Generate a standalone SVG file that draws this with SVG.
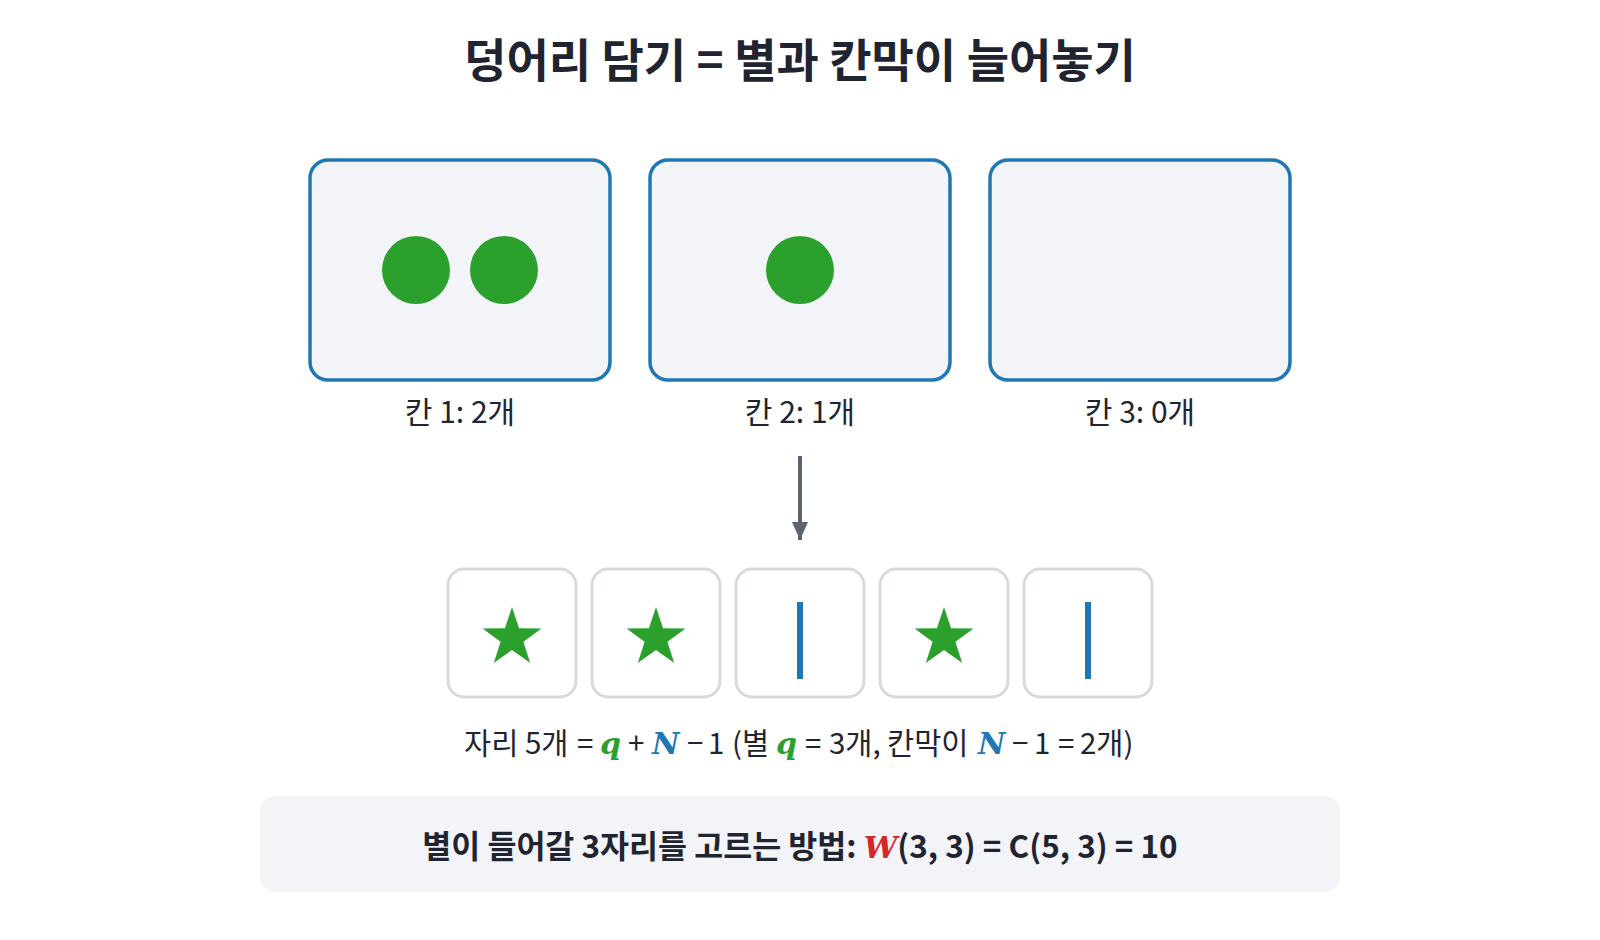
<svg xmlns="http://www.w3.org/2000/svg" width="1600" height="940" viewBox="0 0 1600 940">
<style>
  .t { font-family: "Noto Sans CJK KR", "Noto Sans", sans-serif; fill: #1f2430; }
  .title { font-size: 46px; font-weight: 700; }
  .lbl { font-size: 30px; }
  .fml { font-size: 29.5px; }
  .bin { fill: #f3f4f8; stroke: #1f77b4; stroke-width: 3.5; }
  .ball { fill: #2ca02c; }
  .slot { fill: #ffffff; stroke: #d5d9e0; stroke-width: 3; }
  .star { fill: #2ca02c; }
  .bar { fill: #1f77b4; }
  .var { font-family: "DejaVu Serif", "Liberation Serif", serif; font-weight: 700; font-style: italic; font-size: 30px; }
  .conn { stroke: #5b6373; stroke-width: 4; fill: none; }
</style>
<defs>
  <marker id="ah" viewBox="0 0 18 16" refX="18" refY="8" markerWidth="18" markerHeight="16" markerUnits="userSpaceOnUse" orient="auto">
    <path d="M0,0 L18,8 L0,16 Z" fill="#5b6373"/>
  </marker>
  <polygon id="starShape" points="0,-31 7.05,-9.71 29.48,-9.58 11.41,3.71 18.22,25.08 0,12 -18.22,25.08 -11.41,3.71 -29.48,-9.58 -7.05,-9.71"/>
</defs>
<rect width="1600" height="940" fill="#ffffff"/>

<text class="t title" x="800" y="77" text-anchor="middle">덩어리 담기 = 별과 칸막이 늘어놓기</text>

<g id="bin1">
  <rect class="bin" x="310" y="160" width="300" height="220" rx="18"/>
  <circle class="ball" cx="416" cy="270" r="34"/>
  <circle class="ball" cx="504" cy="270" r="34"/>
  <text class="t lbl" x="460" y="423" text-anchor="middle">칸 1: 2개</text>
</g>
<g id="bin2">
  <rect class="bin" x="650" y="160" width="300" height="220" rx="18"/>
  <circle class="ball" cx="800" cy="270" r="34"/>
  <text class="t lbl" x="800" y="423" text-anchor="middle">칸 2: 1개</text>
</g>
<g id="bin3">
  <rect class="bin" x="990" y="160" width="300" height="220" rx="18"/>
  <text class="t lbl" x="1140" y="423" text-anchor="middle">칸 3: 0개</text>
</g>

<g id="connectors">
  <line class="conn" x1="800" y1="456" x2="800" y2="540" marker-end="url(#ah)"/>
</g>

<g id="slot1">
  <rect class="slot" x="448" y="569" width="128" height="128" rx="16"/>
  <use href="#starShape" class="star" x="512" y="638"/>
</g>
<g id="slot2">
  <rect class="slot" x="592" y="569" width="128" height="128" rx="16"/>
  <use href="#starShape" class="star" x="656" y="638"/>
</g>
<g id="slot3">
  <rect class="slot" x="736" y="569" width="128" height="128" rx="16"/>
  <rect class="bar" x="797" y="602" width="6" height="77"/>
</g>
<g id="slot4">
  <rect class="slot" x="880" y="569" width="128" height="128" rx="16"/>
  <use href="#starShape" class="star" x="944" y="638"/>
</g>
<g id="slot5">
  <rect class="slot" x="1024" y="569" width="128" height="128" rx="16"/>
  <rect class="bar" x="1085" y="602" width="6" height="77"/>
</g>

<text class="t fml" y="754"><tspan x="464">자리 5개</tspan><tspan x="577">=</tspan><tspan x="600" class="var" fill="#2ca02c">q</tspan><tspan x="628">+</tspan><tspan x="652" class="var" fill="#1f77b4">N</tspan><tspan x="687">−</tspan><tspan x="708">1</tspan><tspan x="732">(별</tspan><tspan x="776" class="var" fill="#2ca02c">q</tspan><tspan x="805">=</tspan><tspan x="829">3개,</tspan><tspan x="887">칸막이</tspan><tspan x="978" class="var" fill="#1f77b4">N</tspan><tspan x="1012">−</tspan><tspan x="1034">1</tspan><tspan x="1058">=</tspan><tspan x="1080">2개)</tspan></text>

<g id="result">
  <rect x="260" y="796" width="1080" height="96" rx="16" fill="#f3f4f8"/>
  <text class="t" x="800" y="858" text-anchor="middle" font-size="31.5" font-weight="700">별이 들어갈 3자리를 고르는 방법: <tspan class="var" fill="#d62728" font-size="32">W</tspan>(3, 3) = C(5, 3) = 10</text>
</g>
</svg>
